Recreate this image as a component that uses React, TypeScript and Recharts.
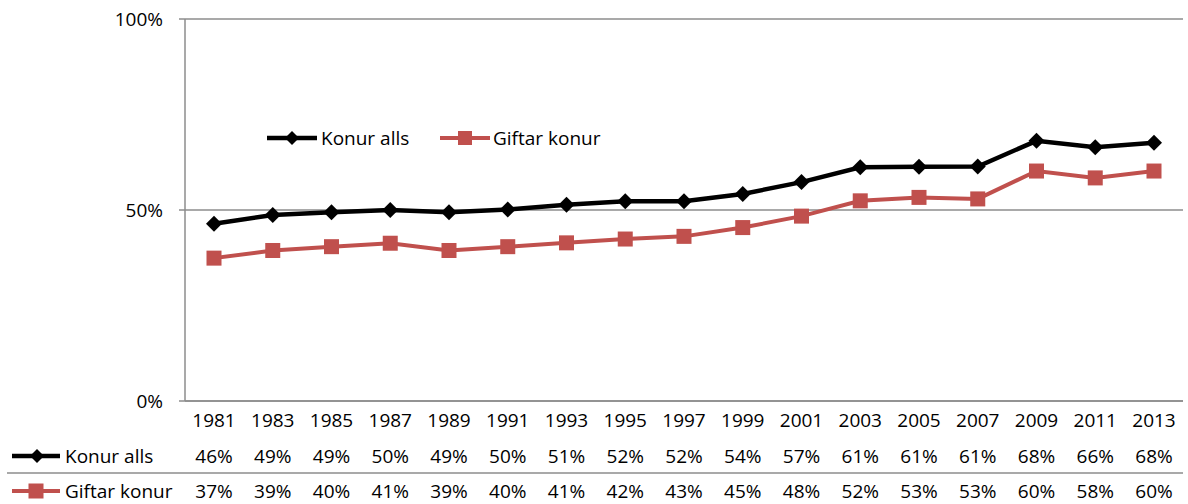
import { LineChart, Line, XAxis, YAxis, CartesianGrid, Legend } from "recharts";

const years = ["1981", "1983", "1985", "1987", "1989", "1991", "1993", "1995", "1997", "1999", "2001", "2003", "2005", "2007", "2009", "2011", "2013"];
const konurAlls = [46.4, 48.7, 49.4, 50.0, 49.4, 50.1, 51.4, 52.3, 52.3, 54.2, 57.3, 61.2, 61.3, 61.4, 68.1, 66.4, 67.6];
const giftarKonur = [37.4, 39.4, 40.4, 41.3, 39.4, 40.4, 41.4, 42.4, 43.1, 45.4, 48.4, 52.4, 53.3, 52.9, 60.2, 58.4, 60.2];
const yTicks = [0, 50, 100];

const data = years.map((year, i) => ({ year, konur: konurAlls[i], giftar: giftarKonur[i] }));

const FONT = "'Open Sans', sans-serif";
const FS = 19;
const BLACK = "#000000";
const RED = "#c0504d";
const GRID = "#8c8c8c";

const pct = (v: number) => `${Math.round(v)}%`;

const Diamond = ({ cx, cy, size = 8 }: any) =>
  cx == null || cy == null ? null : (
    <path d={`M${cx},${cy - size}L${cx + size},${cy}L${cx},${cy + size}L${cx - size},${cy}Z`} fill={BLACK} />
  );

const Square = ({ cx, cy, size = 7.5 }: any) =>
  cx == null || cy == null ? null : (
    <rect x={cx - size} y={cy - size} width={size * 2} height={size * 2} fill={RED} />
  );

// year + the two data-table rows under each category
const TableTick = ({ x, y, payload }: any) => {
  const i = payload.index;
  return (
    <g fontFamily={FONT} fontSize={FS} fill="#000">
      <text x={x} y={y + 26} textAnchor="middle">{payload.value}</text>
      <text x={x} y={y + 62} textAnchor="middle">{pct(konurAlls[i])}</text>
      <text x={x} y={y + 97} textAnchor="middle">{pct(giftarKonur[i])}</text>
    </g>
  );
};

const LegendContent = () => (
  <svg width={360} height={30} style={{ overflow: "visible" }}>
    <line x1={2} y1={15} x2={52} y2={15} stroke={BLACK} strokeWidth={4.5} />
    <Diamond cx={27} cy={15} size={7} />
    <text x={56} y={15} dominantBaseline="central" fontFamily={FONT} fontSize={FS}>Konur alls</text>
    <line x1={175} y1={15} x2={225} y2={15} stroke={RED} strokeWidth={4} />
    <Square cx={200} cy={15} size={7} />
    <text x={228} y={15} dominantBaseline="central" fontFamily={FONT} fontSize={FS}>Giftar konur</text>
  </svg>
);

export default function App() {
  return (
    <div style={{ position: "absolute", left: 0, top: 0, width: 1188, height: 504, background: "#fff" }}>
      <LineChart width={1188} height={504} data={data} margin={{ top: 19, right: 5, left: 0, bottom: 0 }}>
        <CartesianGrid vertical={false} stroke={GRID} strokeWidth={1.5} />
        <XAxis
          dataKey="year"
          height={103}
          padding={{ left: 29, right: 29 }}
          tickLine={false}
          tickSize={0}
          tickMargin={0}
          axisLine={{ stroke: GRID, strokeWidth: 1.5 }}
          tick={<TableTick />}
          interval={0}
        />
        <YAxis
          width={185}
          domain={[0, 100]}
          ticks={yTicks}
          tickFormatter={(v) => `${v}%`}
          tickSize={6}
          tickMargin={16}
          tickLine={{ stroke: GRID, strokeWidth: 1.5 }}
          axisLine={{ stroke: GRID, strokeWidth: 1.5 }}
          tick={{ fill: "#000", fontSize: FS, fontFamily: FONT }}
        />
        <Legend
          content={<LegendContent />}
          layout="horizontal"
          verticalAlign="middle"
          align="center"
          wrapperStyle={{ left: 265, top: 123, width: 360 }}
        />
        <Line
          dataKey="konur"
          name="Konur alls"
          type="linear"
          stroke={BLACK}
          strokeWidth={4.5}
          dot={<Diamond size={8} />}
          activeDot={false}
          isAnimationActive={false}
        />
        <Line
          dataKey="giftar"
          name="Giftar konur"
          type="linear"
          stroke={RED}
          strokeWidth={4}
          dot={<Square size={7.5} />}
          activeDot={false}
          isAnimationActive={false}
        />
      </LineChart>
      <svg width={1188} height={504} style={{ position: "absolute", left: 0, top: 0, pointerEvents: "none" }}>
        <line x1={7} y1={473} x2={1183} y2={473} stroke={GRID} strokeWidth={1.5} />
        <line x1={12} y1={456} x2={60} y2={456} stroke={BLACK} strokeWidth={4.5} />
        <Diamond cx={37} cy={456} size={7} />
        <text x={65} y={463} fontFamily={FONT} fontSize={FS}>Konur alls</text>
        <line x1={12} y1={491} x2={60} y2={491} stroke={RED} strokeWidth={4} />
        <Square cx={36} cy={491} size={7.5} />
        <text x={65} y={498} fontFamily={FONT} fontSize={FS}>Giftar konur</text>
      </svg>
    </div>
  );
}
